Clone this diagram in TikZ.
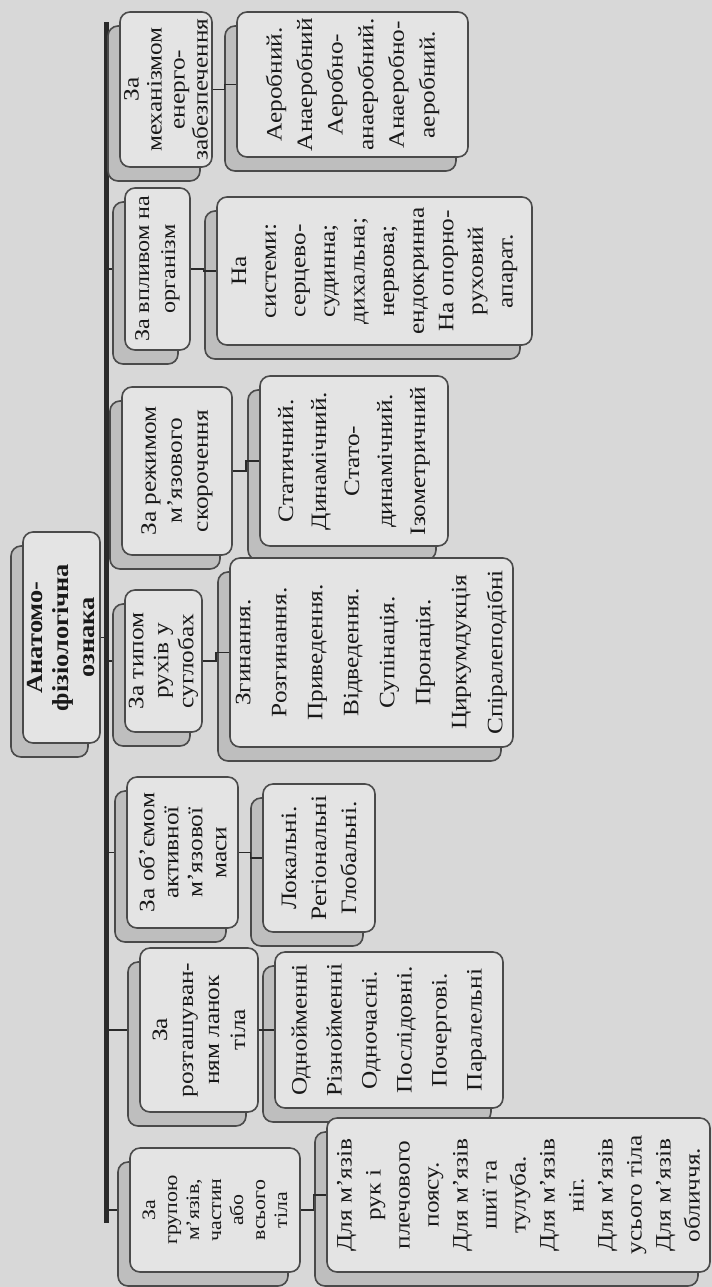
\documentclass[tikz,border=0pt]{standalone}
\usepackage{fontspec}
\setmainfont{Liberation Serif}[FakeStretch=1.15]
\usetikzlibrary{calc,shadows,backgrounds}
\definecolor{paper}{HTML}{D8D8D8}
\definecolor{boxfill}{HTML}{E4E4E4}
\definecolor{shadefill}{HTML}{BEBEBE}
\definecolor{boxline}{HTML}{4A4A4A}
\definecolor{linecol}{HTML}{2A2A2A}
\begin{document}
\begin{tikzpicture}[
  x=0.5pt, y=-0.5pt,
  every node/.style={rotate=90,align=center,inner sep=1pt,text=black!90},
  box/.style={draw=boxline,fill=boxfill,rounded corners=5pt,line width=0.8pt,
    general shadow={shadow xshift=-6pt,shadow yshift=-7pt,fill=shadefill,draw=boxline,line width=0.8pt}},
  sz/.style 2 args={minimum height=#1*0.5pt,minimum width=#2*0.5pt},
  rootbox/.style={box,font=\fontsize{11.5}{13}\selectfont\bfseries},
  catbox/.style={box,font=\fontsize{11}{#1}\selectfont},
  itembox/.style={box,font=\fontsize{11}{#1}\selectfont},
  link/.style={draw=linecol,line width=0.8pt},
  bus/.style={draw=linecol,line width=2.5pt}
]
\useasboundingbox (0,0) rectangle (712,1287);

% root
\node[rootbox,sz={77}{211}] (root) at (61.5,637.5) {Анатомо-\\фізіологічна\\ознака};

% categories
\node[catbox=11.5,sz={92}{155}]  (c7) at (166,89.5)   {За\\механізмом\\енерго-\\забезпечення};
\node[catbox=13,font=\fontsize{10.5}{13}\selectfont,sz={65}{162}] (c6) at (157.5,269) {За впливом на\\організм};
\node[catbox=13,sz={110}{168}]   (c5) at (177,471)    {За режимом\\м’язового\\скорочення};
\node[catbox=12.5,sz={77}{142}]  (c4) at (163.5,661)  {За типом\\рухів у\\суглобах};
\node[catbox=12,sz={111}{151}]   (c3) at (182.5,852.5){За об’ємом\\активної\\м’язової\\маси};
\node[catbox=13,sz={118}{164}]   (c2) at (199,1030)   {За\\розташуван-\\ням ланок\\тіла};
\node[box,font=\fontsize{9.5}{11}\selectfont,sz={170}{124}] (c1) at (215,1210)
  {За\\групою\\м’язів,\\частин\\або\\всього\\тіла};

% details
\node[itembox=15.3,sz={231}{145}] (d7) at (352.5,84.5)
  {Аеробний.\\Анаеробний\\Аеробно-\\анаеробний.\\Анаеробно-\\аеробний.};
\node[itembox=14.8,sz={315}{148}] (d6) at (374.5,271)
  {На\\системи:\\серцево-\\судинна;\\дихальна;\\нервова;\\ендокринна\\На опорно-\\руховий\\апарат.};
\node[itembox=16.5,sz={188}{170}] (d5) at (354,461)
  {Статичний.\\Динамічний.\\Стато-\\динамічний.\\Ізометричний};
\node[itembox=18,sz={283}{189}] (d4) at (371.5,652.5)
  {Згинання.\\Розгинання.\\Приведення.\\Відведення.\\Супінація.\\Пронація.\\Циркумдукція\\Спіралеподібні};
\node[itembox=15,sz={112}{148}] (d3) at (319,858)
  {Локальні.\\Регіональні\\Глобальні.};
\node[itembox=17.5,sz={228}{156}] (d2) at (389,1030)
  {Однойменні\\Різнойменні\\Одночасні.\\Послідовні.\\Почергові.\\Паралельні};
\node[itembox=14.5,sz={383}{154}] (d1) at (518.5,1195)
  {Для м’язів\\рук і\\плечового\\поясу.\\Для м’язів\\шиї та\\тулуба.\\Для м’язів\\ніг.\\Для м’язів\\усього тіла\\Для м’язів\\обличчя.};

\begin{pgfonlayer}{background}
  \fill[paper] (0,0) rectangle (712,1287);
  \coordinate (bustop) at (106,22);
  \coordinate (busend) at (106,1223);
  \draw[bus] (bustop) -- (busend);
  \draw[link] (root.south) -- (root.south -| bustop);
  \foreach \c in {c1,c2,c3,c4,c5,c6,c7}
    \draw[link] (\c.north -| bustop) -- (\c.north);
\end{pgfonlayer}

% category -> detail
\foreach \c/\d in {c1/d1,c2/d2,c3/d3,c4/d4,c5/d5,c6/d6,c7/d7}
  \draw[link] (\c.south) -- ($(\c.south)!0.5!(\c.south -| \d.north)$) |- (\d.north);
\end{tikzpicture}
\end{document}
